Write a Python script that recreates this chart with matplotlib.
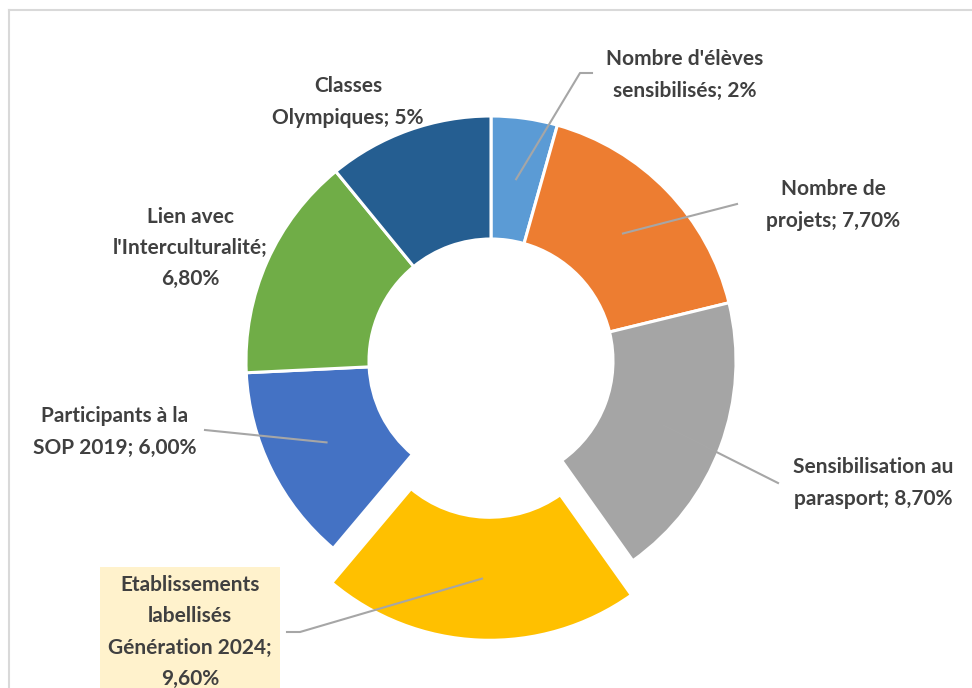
import numpy as np
import matplotlib.pyplot as plt

plt.rcParams['font.family'] = ['Lato', 'DejaVu Sans']

# ---- data ----
labels = ["Nombre d'élèves\nsensibilisés; 2%",
          "Nombre de\nprojets; 7,70%",
          "Sensibilisation au\nparasport; 8,70%",
          "Etablissements\nlabellisés\nGénération 2024;\n9,60%",
          "Participants à la\nSOP 2019; 6,00%",
          "Lien avec\nl'Interculturalité;\n6,80%",
          "Classes\nOlympiques; 5%"]
values = [2.0, 7.7, 8.7, 9.6, 6.0, 6.8, 5.0]
colors = ['#5B9BD5', '#ED7D31', '#A5A5A5', '#FFC000', '#4472C4', '#70AD47', '#255E91']
explode_frac = [0, 0, 0, 0.14, 0, 0, 0]

# ---- layout (pixel coords, y measured from top) ----
W, H = 972, 688
CX, CY = 491, 361
R_OUT, R_IN = 245, 122
label_pos = [(685, 75), (833, 205), (873, 483), (190, 632), (115, 432), (190, 248), (348, 102)]
# leader line end points (None = no leader)
leader_end = [[(580, 73), (592, 73)],
              [(737, 204)],
              [(778, 483)],
              [(300, 632), (287, 632)],
              [(205, 430)],
              None, None]
TXT = '#404040'
LEAD = '#A6A6A6'

fig = plt.figure(figsize=(W / 100, H / 100), dpi=100)
ax = fig.add_axes([0, 0, 1, 1])

wedges, _ = ax.pie(values, colors=colors, startangle=90, counterclock=False,
                   explode=[e * R_OUT for e in explode_frac],
                   center=(CX, H - CY), radius=R_OUT,
                   wedgeprops=dict(width=R_OUT - R_IN, edgecolor='white', linewidth=2.2),
                   frame=True)
ax.set_xlim(0, W)
ax.set_ylim(0, H)
ax.set_aspect('equal')
ax.axis('off')

# leader lines from wedge centroid to label
r_mid = (R_OUT + R_IN) / 2
for w, ends in zip(wedges, leader_end):
    if ends is None:
        continue
    ang = np.deg2rad((w.theta1 + w.theta2) / 2)
    cx, cy = w.center
    x0, y0 = cx + r_mid * np.cos(ang), cy + r_mid * np.sin(ang)
    xs = [x0] + [p[0] for p in ends]
    ys = [y0] + [H - p[1] for p in ends]
    ax.plot(xs, ys, color=LEAD, lw=1.5, zorder=4)

for i, (lab, (lx, ly)) in enumerate(zip(labels, label_pos)):
    bbox = None
    if i == 3:
        bbox = dict(boxstyle='square,pad=0.4', facecolor='#FFF2CC', edgecolor='none')
    ax.text(lx, H - ly, lab, ha='center', va='center', fontsize=15,
            fontweight='bold', color=TXT, linespacing=1.7, bbox=bbox, zorder=5)

# chart-area border (right and bottom edges run off the picture)
ax.plot([9, 9], [H - 10, -5], color='#D9D9D9', lw=1.5, clip_on=False)
ax.plot([9, W + 5], [H - 10, H - 10], color='#D9D9D9', lw=1.5, clip_on=False)

fig.savefig('out.png', dpi=100, facecolor='white')
